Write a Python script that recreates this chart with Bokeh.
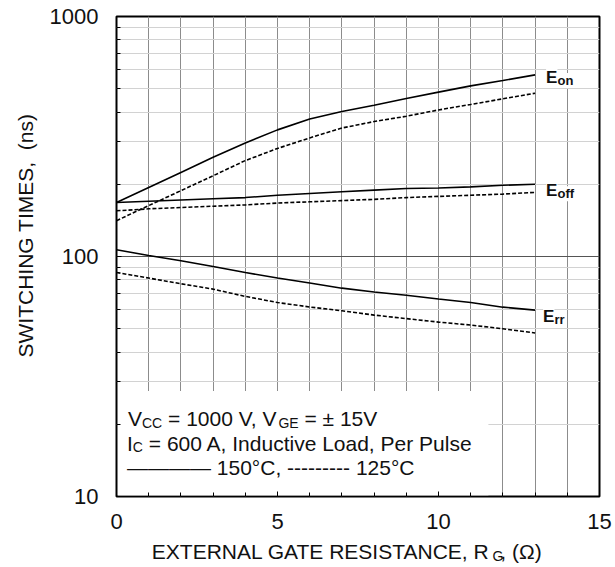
import math
from bokeh.plotting import figure
from bokeh.models import FixedTicker, NumeralTickFormatter, Label, Title
from bokeh.embed import file_html
from bokeh.resources import INLINE

# ---------------- data ----------------
RG = [0, 1, 2, 3, 4, 5, 6, 7, 8, 9, 10, 11, 12, 13]
EON_150 = [168, 194, 224, 259, 297, 337, 374, 402, 427, 455, 484, 514, 541, 571]
EON_125 = [141, 163, 188, 217, 251, 282, 312, 343, 365, 384, 408, 430, 454, 479]
EOFF_150 = [168, 170, 172, 174, 176, 180, 183, 186, 189, 192, 193, 195, 198, 200]
EOFF_125 = [155, 158, 160, 162, 164, 167, 169, 171, 173, 176, 178, 180, 182, 185]
ERR_150 = [106.7, 101, 96, 90.9, 85.8, 81.3, 77.5, 73.8, 71.1, 69, 66.5, 64.3, 61.5, 59.8]
ERR_125 = [85.8, 81.3, 77, 73.1, 68.2, 64.3, 61.6, 59.4, 57, 55.1, 53.3, 51.8, 50, 48]

X_TICKS = [0, 5, 10, 15]
X_GRID = list(range(16))
Y_TICKS = [10, 100, 1000]
Y_MINOR = [20, 30, 40, 50, 60, 70, 80, 90, 200, 300, 400, 500, 600, 700, 800, 900]

FONT = "Liberation Sans"

# layout (canvas pixels)
W_CANVAS, H_CANVAS = 615, 567
F_LEFT, F_RIGHT, F_TOP, F_BOTTOM = 116, 599, 16, 496

# Arial / Liberation Sans advance widths (1/1000 em)
W = {" ": 278, "\u00a0": 278, ",": 278, "-": 333, "=": 584, "\u00b1": 584, "\u00b0": 400,
     "(": 333, ")": 333, "\u03a9": 768, "\u2014": 1000,
     "A": 667, "C": 722, "E": 667, "G": 778, "I": 278, "L": 556, "N": 722, "P": 667,
     "R": 722, "S": 667, "T": 611, "V": 667, "X": 667,
     "a": 556, "c": 500, "d": 556, "e": 556, "i": 222, "l": 222, "n": 556, "o": 556,
     "r": 333, "s": 500, "t": 278, "u": 556, "v": 500}
for d in "0123456789":
    W[d] = 556
WB = {"E": 667, "o": 611, "n": 611, "f": 333, "r": 389}


def tw(s, size, table=W):
    return sum(table.get(c, 556) for c in s) * size / 1000.0


def px_to_x(px):
    return X_TICKS[0] + (px - F_LEFT) * (X_TICKS[-1] - X_TICKS[0]) / (F_RIGHT - F_LEFT)


def px_to_y(py):
    lo, hi = math.log10(Y_TICKS[0]), math.log10(Y_TICKS[-1])
    return 10 ** (lo + (F_BOTTOM - py) * (hi - lo) / (F_BOTTOM - F_TOP))


p = figure(width=W_CANVAS, height=H_CANVAS, x_range=(0, 15), y_range=(10, 1000),
           y_axis_type="log", output_backend="svg", toolbar_location=None,
           min_border_left=F_LEFT, min_border_right=W_CANVAS - F_RIGHT,
           min_border_top=F_TOP, min_border_bottom=H_CANVAS - F_BOTTOM)
p.background_fill_color = "white"
p.border_fill_color = "white"
p.outline_line_color = "black"
p.outline_line_width = 2

# grids
p.xgrid.ticker = FixedTicker(ticks=X_GRID)
p.xgrid.grid_line_color = "#8c8c8c"
p.xgrid.grid_line_width = 1
p.ygrid.ticker = FixedTicker(ticks=Y_TICKS, minor_ticks=Y_MINOR)
p.ygrid.grid_line_color = "#555555"
p.ygrid.grid_line_width = 1
p.ygrid.minor_grid_line_color = "#d2d2d2"
p.ygrid.minor_grid_line_width = 1.2

# axes
p.xaxis.ticker = FixedTicker(ticks=X_TICKS, minor_ticks=X_GRID)
p.yaxis.ticker = FixedTicker(ticks=Y_TICKS, minor_ticks=Y_MINOR)
p.yaxis.formatter = NumeralTickFormatter(format="0")
for ax in (p.xaxis[0], p.yaxis[0]):
    ax.axis_line_color = None
    ax.major_tick_in = 5
    ax.major_tick_out = 0
    ax.minor_tick_in = 4
    ax.minor_tick_out = 0
    ax.major_tick_line_color = "black"
    ax.minor_tick_line_color = "black"
    ax.major_label_text_font = FONT
    ax.major_label_text_font_size = "22px"
    ax.major_label_text_color = "#111111"
p.xaxis.major_label_standoff = 17
p.yaxis.major_label_standoff = 18

# white box behind the conditions text (kept just inside the frame edges)
p.quad(left=[0.05], right=[11.55], bottom=[10.12], top=[27.5], fill_color="white", line_color=None)

# curves
series = [(EON_150, "solid"), (EON_125, "4 2"), (EOFF_150, "solid"), (EOFF_125, "4 2"),
          (ERR_150, "solid"), (ERR_125, "4 2")]
for ys, dash in series:
    p.line(RG, ys, line_color="black", line_width=1.6, line_dash=dash)

# curve labels
for ys, sub, xo, yo in [(EON_150, "on", 11, -2.5), (EOFF_150, "off", 11, -6.5), (ERR_150, "rr", 8, -6.5)]:
    p.add_layout(Label(x=RG[-1], y=ys[-1], x_offset=xo, y_offset=yo, text="E",
                       text_font=FONT, text_font_size="17px", text_font_style="bold",
                       text_baseline="alphabetic", text_color="#111111",
                       background_fill_color="white"))
    p.add_layout(Label(x=RG[-1], y=ys[-1], x_offset=xo + tw("E", 17, WB), y_offset=yo - 3, text=sub,
                       text_font=FONT, text_font_size="13px", text_font_style="bold",
                       text_baseline="alphabetic", text_color="#111111",
                       background_fill_color="white"))


def seg_text(segments, x0, y0):
    x = x0
    for s, size, dy in segments:
        stripped = s.lstrip(" ")
        x += tw(s[: len(s) - len(stripped)], size)
        p.add_layout(Label(x=x, y=y0 + dy, x_units="screen", y_units="screen", text=stripped,
                           text_font=FONT, text_font_size=f"{size}px",
                           text_baseline="alphabetic", text_align="left",
                           text_color="#111111"))
        x += tw(stripped, size)


# conditions text
seg_text([("V", 21, 0), ("CC", 14, -4), (" = 1000 V, V", 21, 0), ("GE", 14, -4),
          (" = \u00b1 15V", 21, 0)], 11.5, 77.7)
seg_text([("I", 21, 0), ("C", 14, -4), (" = 600 A, Inductive Load, Per Pulse", 21, 0)], 10.5, 53.3)
seg_text([("\u2014\u2014\u2014\u2014 150\u00b0C, --------- 125\u00b0C", 21, 0)], 10.5, 28.7)

# x axis title: main text in the bottom panel, subscript G in the (narrow) right panel
XT_MAIN = "EXTERNAL GATE RESISTANCE, R"
XT_X0, XT_BASE = 151.3, 551
p.add_layout(Label(x=px_to_x(XT_X0), y=px_to_y(XT_BASE),
                   text=XT_MAIN + "\u00a0\u00a0, (\u03a9)", text_align="left",
                   text_baseline="alphabetic", text_font=FONT, text_font_size="21px",
                   text_color="#111111"), "below")
p.add_layout(Label(x=px_to_x(XT_X0 + tw(XT_MAIN, 21)), y=px_to_y(XT_BASE + 4),
                   text="G", text_align="left", text_baseline="alphabetic",
                   text_font=FONT, text_font_size="14px", text_color="#111111"), "right")

# y axis title
p.add_layout(Title(text="SWITCHING TIMES,\u00a0 (ns)", align="left", offset=139,
                   standoff=20, text_font=FONT, text_font_size="21px",
                   text_font_style="normal", text_color="#111111"), "left")

open("out.html", "w").write(file_html(p, INLINE))
